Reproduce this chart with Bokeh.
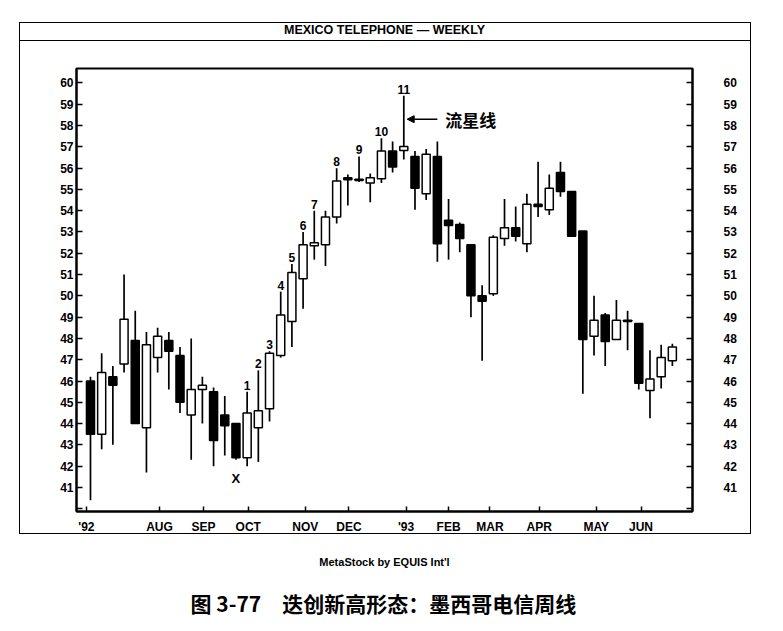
from bokeh.plotting import figure
from bokeh.models import (ColumnDataSource, FixedTicker, LinearAxis, Title,
                          Arrow, NormalHead, InlineStyleSheet)
from bokeh.core.properties import value
from bokeh.embed import file_html
from bokeh.resources import INLINE

# ---- weekly OHLC data ----
opens = [46.0, 43.5, 46.2, 46.8, 47.9, 43.8, 47.1, 47.9, 47.2, 44.4,
         45.6, 45.5, 44.4, 44.0, 42.4, 43.8, 44.7, 47.2, 48.8, 50.8,
         52.35, 52.4, 53.7, 55.55, 55.48, 55.3, 55.5, 56.8, 56.83, 56.55,
         54.8, 56.55, 53.55, 53.35, 52.4, 50.0, 50.1, 52.7, 53.2, 52.45,
         54.3, 54.05, 55.8, 54.9, 53.05, 48.1, 49.1, 47.95, 48.85, 48.7,
         45.55, 46.2, 46.95]
highs = [46.2, 47.3, 46.7, 51.0, 49.3, 48.3, 48.5, 48.3, 47.6, 48.0,
         46.2, 45.7, 45.3, 44.0, 45.5, 46.5, 47.4, 50.2, 51.5, 53.0,
         54.0, 54.0, 56.0, 55.7, 56.55, 55.75, 57.4, 57.25, 59.4, 56.8,
         56.9, 57.25, 54.55, 53.45, 52.4, 50.5, 52.85, 54.55, 54.2, 54.8,
         56.3, 55.7, 56.3, 54.9, 53.05, 50.0, 49.2, 49.8, 49.3, 48.7,
         47.45, 47.7, 47.75]
lows = [40.4, 42.8, 43.0, 46.4, 44.0, 41.7, 46.4, 45.6, 44.5, 42.3,
        44.0, 42.0, 42.5, 42.3, 42.0, 42.2, 44.1, 47.1, 47.6, 49.4,
        51.7, 51.4, 53.4, 54.25, 55.35, 54.4, 55.3, 55.8, 56.4, 54.05,
        54.5, 51.6, 51.7, 52.05, 49.0, 46.95, 50.0, 52.35, 52.55, 52.05,
        53.7, 53.8, 54.65, 52.8, 45.4, 47.2, 46.7, 47.95, 47.45, 45.6,
        44.25, 45.65, 46.7]
closes = [43.5, 46.4, 45.8, 48.9, 44.0, 47.7, 48.1, 47.4, 45.0, 45.6,
          45.8, 43.2, 43.9, 42.4, 44.5, 44.6, 47.3, 49.1, 51.1, 52.4,
          52.5, 53.7, 55.4, 55.45, 55.42, 55.55, 56.8, 56.05, 57.02, 55.05,
          56.65, 52.45, 53.3, 52.7, 50.0, 49.75, 52.75, 53.2, 52.8, 54.3,
          54.2, 55.05, 54.9, 52.8, 47.95, 48.85, 47.85, 48.85, 48.8, 45.9,
          46.1, 47.1, 47.6]

month_pos = [-0.36, 6.17, 10.1, 14.1, 19.2, 23.1, 28.2, 32.0, 35.7, 40.1, 45.2, 49.2]
month_labels = ["'92", "AUG", "SEP", "OCT", "NOV", "DEC", "'93", "FEB", "MAR", "APR", "MAY", "JUN"]

price_ticks = list(range(40, 61))

count_labels = ["1", "2", "3", "4", "5", "6", "7", "8", "9", "10", "11"]
count_index = [14, 15, 16, 17, 18, 19, 20, 22, 24, 26, 28]
low_label = "X"
low_index = 13
star_index = 28
star_text = "流星线"
arrow_price = 58.3

title_text = "MEXICO TELEPHONE — WEEKLY"
credit_text = "MetaStock by EQUIS Int'l"
caption_text = "图 3-77　迭创新高形态：墨西哥电信周线"

# ---- layout / style ----
W, H = 775, 625
FONT = "Liberation Sans Narrow, Liberation Sans, sans-serif"
BOLD = "Liberation Sans, Arial, sans-serif"
CJK = "Noto Sans CJK SC"

box_css = """
:host::before {
  content: ""; position: absolute; left: 19px; top: 22px;
  width: 732px; height: 512px; border: 1.5px solid black;
  box-sizing: border-box; z-index: 50; pointer-events: none;
}
:host::after {
  content: ""; position: absolute; left: 19px; top: 39.5px;
  width: 732px; height: 0px; border-top: 1.5px solid black;
  z-index: 50; pointer-events: none;
}
"""

idx = list(range(len(opens)))
src = ColumnDataSource(dict(
    x=idx, o=opens, h=highs, l=lows, c=closes,
    top=[max(o, c) for o, c in zip(opens, closes)],
    bottom=[min(o, c) for o, c in zip(opens, closes)],
    fill=["white" if c >= o else "black" for o, c in zip(opens, closes)],
))

p = figure(width=W, height=H, x_range=(-1.25, 53.8), y_range=(39.87, 60.68),
           output_backend="svg", toolbar_location=None, tools="",
           min_border_left=76, min_border_right=W - 692, min_border_top=68,
           min_border_bottom=H - 511, background_fill_color="white",
           border_fill_color="white",
           stylesheets=[InlineStyleSheet(css=box_css)])
p.xgrid.visible = False
p.ygrid.visible = False
p.outline_line_color = "black"
p.outline_line_width = 2


def style_axis(ax):
    ax.axis_line_color = "black"
    ax.axis_line_width = 2
    ax.major_tick_in = 6
    ax.major_tick_out = 0
    ax.major_tick_line_width = 1.5
    ax.minor_tick_line_color = None
    ax.major_label_text_font = FONT
    ax.major_label_text_font_style = "bold"
    ax.major_label_text_font_size = "12px"
    ax.major_label_text_color = "black"


yl = p.yaxis[0]
yl.ticker = FixedTicker(ticks=price_ticks)
yl.major_label_overrides = {40: ""}
yl.major_label_standoff = 3
style_axis(yl)

yr = LinearAxis(ticker=FixedTicker(ticks=price_ticks))
yr.major_label_overrides = {40: ""}
yr.major_label_standoff = 31
style_axis(yr)
p.add_layout(yr, "right")

xb = p.xaxis[0]
xb.ticker = FixedTicker(ticks=month_pos)
xb.major_label_overrides = {pos: lab for pos, lab in zip(month_pos, month_labels)}
xb.major_label_standoff = 8
style_axis(xb)
xb.major_tick_in = 5

# titles outside the frame (a blank spacer title keeps the heading in its strip)
p.add_layout(Title(text=" ", text_font_size="1px", standoff=25), "above")
p.add_layout(Title(text=title_text, align="center", text_font=BOLD,
                   text_font_style="bold", text_font_size="12.5px",
                   text_color="black", standoff=8), "above")
p.add_layout(Title(text=credit_text, align="center", text_font=BOLD,
                   text_font_style="bold", text_font_size="11px",
                   text_color="black", standoff=35), "below")
p.add_layout(Title(text=caption_text, align="left", offset=114, text_font=CJK,
                   text_font_style="bold", text_font_size="21px",
                   text_color="black", standoff=0), "below")

# candles
p.segment(x0="x", y0="h", x1="x", y1="l", source=src, line_color="black", line_width=1.7)
p.vbar(x="x", top="top", bottom="bottom", width=0.72, fill_color="fill",
       line_color="black", line_width=1.5, source=src)

# count labels
p.text(x=count_index, y=[highs[i] for i in count_index], text=count_labels,
       text_align="center", text_baseline="bottom", y_offset=-2,
       text_font=value(BOLD), text_font_style="bold", text_font_size="12px",
       text_color="black")
p.text(x=[low_index], y=[lows[low_index]], text=[low_label],
       text_align="center", text_baseline="top", y_offset=11,
       text_font=value(BOLD), text_font_style="bold", text_font_size="13px",
       text_color="black")

# shooting-star arrow
p.add_layout(Arrow(end=NormalHead(size=7, fill_color="black", line_color="black"),
                   x_start=star_index + 3.0, y_start=arrow_price,
                   x_end=star_index + 0.3, y_end=arrow_price,
                   line_color="black", line_width=1.5))
p.text(x=[star_index + 3.7], y=[arrow_price], text=[star_text],
       text_align="left", text_baseline="middle",
       text_font=value(CJK), text_font_style="bold", text_font_size="17px",
       text_color="black")

open("out.html", "w").write(file_html(p, INLINE))
